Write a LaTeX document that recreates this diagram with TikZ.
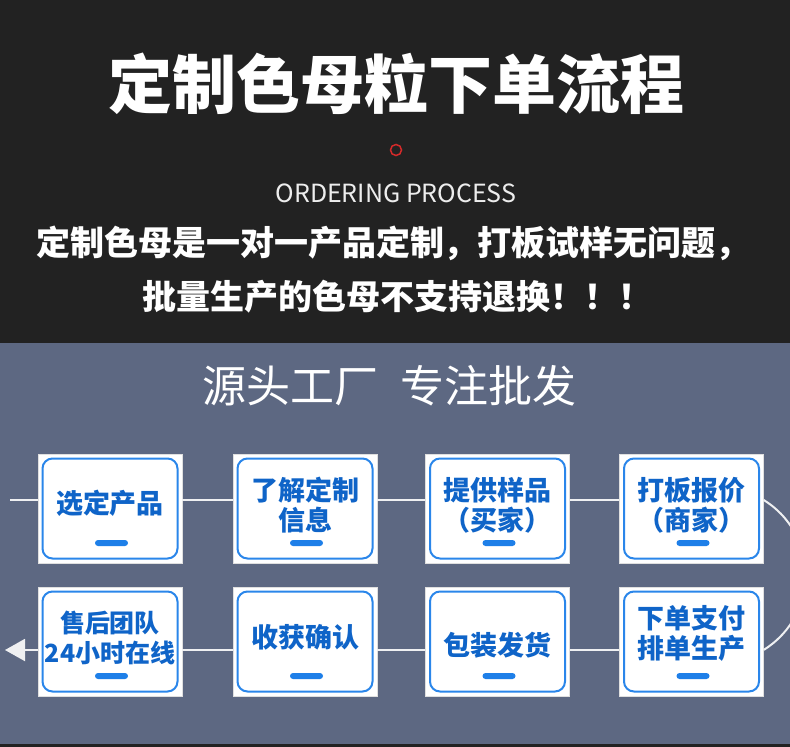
\documentclass[tikz,border=0pt]{standalone}
\usepackage{fontspec}
\setmainfont{Noto Sans CJK SC}
\usepackage{xcolor}
\usetikzlibrary{calc, positioning, arrows.meta}
\definecolor{darkBg}{HTML}{222222}
\definecolor{slateBg}{HTML}{5D6882}
\definecolor{frameBlue}{HTML}{2A86EA}
\definecolor{textBlue}{HTML}{0F64C8}
\definecolor{barBlue}{HTML}{1E7FE8}
\definecolor{dotRed}{HTML}{D42A2A}
\tikzset{
    stepBox/.style={
        rectangle, draw=gray!25, fill=white, inner sep=0pt,
        minimum width=144pt, minimum height=109pt,
        path picture={
            \draw[frameBlue, line width=2pt, rounded corners=10pt]
                ([shift={(4.5pt,-4.5pt)}]path picture bounding box.north west) rectangle
                ([shift={(-4.5pt,4.5pt)}]path picture bounding box.south east);
            \fill[barBlue, rounded corners=3pt]
                ([shift={(-15pt,17pt)}]path picture bounding box.south) rectangle
                ([shift={(18pt,23pt)}]path picture bounding box.south);
        }
    },
    stepText/.style={text=textBlue, font=\fontsize{27}{30}\selectfont\bfseries, align=center, inner sep=0pt},
    smallText/.style={stepText, font=\fontsize{25}{30}\selectfont\bfseries},
    flowLine/.style={draw=white!90!slateBg, line width=2pt},
    titleText/.style={text=white, font=\fontsize{64}{70}\selectfont\bfseries, inner sep=0pt},
    engText/.style={text=white!93!black, font=\fontsize{25}{28}\selectfont, inner sep=0pt},
    noteText/.style={text=white, font=\fontsize{34}{38}\selectfont\bfseries, inner sep=0pt},
    sloganText/.style={text=white, font=\fontsize{44}{48}\selectfont, inner sep=0pt},
    redDot/.style={circle, draw=dotRed, line width=1.5pt, minimum size=11pt, inner sep=0pt}
}

\begin{document}
\begin{tikzpicture}[x=1pt, y=-1pt]
    \useasboundingbox (0,0) rectangle (790,747);

    % Backgrounds
    \fill[darkBg] (0,0) rectangle (790,343);
    \fill[slateBg] (0,343) rectangle (790,744);
    \fill[darkBg] (0,744) rectangle (790,747);

    % Heading
    \node[titleText] (title) at (396,84) {定制色母粒下单流程};
    \node[redDot] (dot) at (396,150) {};
    \node[engText] (eng) at (396,193) {ORDERING PROCESS};
    \node[noteText] (note1) at (393,243) {定制色母是一对一产品定制，打板试样无问题，};
    \node[noteText] (note2) at (397,297) {批量生产的色母不支持退换！！！};
    \node[sloganText] (slogan) at (389,386) {源头工厂\enspace 专注批发};

    % Upper row
    \node[stepBox] (s1) at (110,508.5) {};
    \node[stepBox] (s2) at (305,508.5) {};
    \node[stepBox] (s3) at (497.5,508.5) {};
    \node[stepBox] (s4) at (691.5,508.5) {};
    \node[stepText] (t1) at (110,503) {选定产品};
    \node[stepText] (t2) at (305,505) {了解定制\\信息};
    \node[stepText] (t3) at (497.5,505) {提供样品\\（买家）};
    \node[stepText] (t4) at (691.5,505) {打板报价\\（商家）};

    % Lower row
    \node[stepBox] (s5) at (110,641.5) {};
    \node[stepBox] (s6) at (305,641.5) {};
    \node[stepBox] (s7) at (497.5,641.5) {};
    \node[stepBox] (s8) at (691.5,641.5) {};
    \node[smallText] (t5) at (110,637.5) {售后团队\\24小时在线};
    \node[stepText] (t6) at (305,637) {收获确认};
    \node[stepText] (t7) at (497.5,645) {包装发货};
    \node[stepText] (t8) at (691.5,633) {下单支付\\排单生产};

    % Flow lines
    \coordinate (lineIn) at (10,500);
    \coordinate (lineOut) at (5,650);
    \draw[flowLine] (lineIn) -- (lineIn -| s1.west);
    \draw[flowLine] (s1.east |- lineIn) -- (s2.west |- lineIn);
    \draw[flowLine] (s2.east |- lineIn) -- (s3.west |- lineIn);
    \draw[flowLine] (s3.east |- lineIn) -- (s4.west |- lineIn);
    \draw[flowLine] (s4.east |- lineIn) arc[start angle=-58.4, end angle=58.4, radius=88];
    \draw[flowLine] (s8.west |- lineOut) -- (s7.east |- lineOut);
    \draw[flowLine] (s7.west |- lineOut) -- (s6.east |- lineOut);
    \draw[flowLine] (s6.west |- lineOut) -- (s5.east |- lineOut);
    \draw[flowLine, -{Triangle[length=20pt, width=22pt]}] (s5.west |- lineOut) -- (lineOut);
\end{tikzpicture}
\end{document}
